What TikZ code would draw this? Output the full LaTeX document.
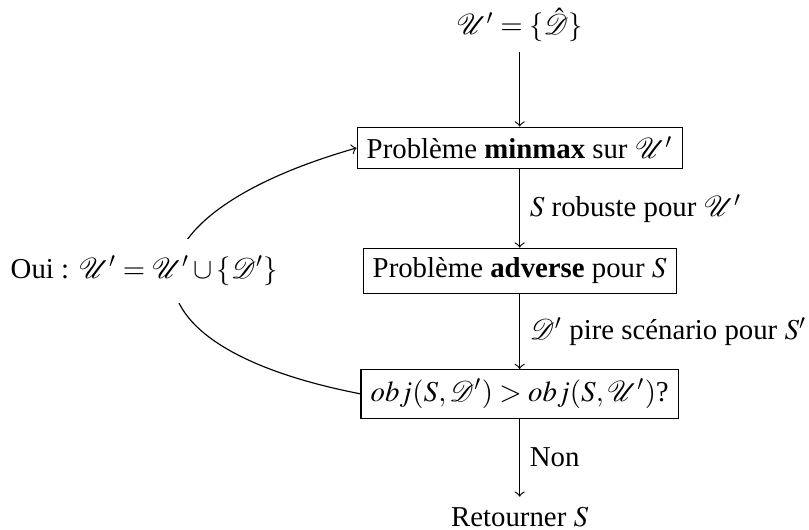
\documentclass[tikz,border=0pt]{standalone}
\usepackage{mathptmx}
\usepackage{mathrsfs}
\usepackage{fontspec}
\setmainfont{Liberation Serif}
\tikzset{
  etape/.style={draw, rectangle, fill=white},
  fleche/.style={->}
}
\begin{document}
\begin{tikzpicture}
      \useasboundingbox (-6.34,0.305) rectangle (3.53,-6.16);
      \node (init) at (0,0) {$\mathscr{U}' = \{\hat{\mathscr{D}}\}$};
      \node[etape] (minmax) at (0,-1.5) {Problème \textbf{minmax} sur $\mathscr{U}'$};
      \node[etape] (adverse) at (0,-3) {Problème \textbf{adverse} pour $S$};
      \node[etape] (test) at (0,-4.5) {$obj(S,\mathscr{D}') > obj(S,\mathscr{U}')$?};
      \node (fin) at (0,-6) {Retourner $S$};
      \draw[fleche] (init) -- (minmax);
      \draw[fleche] (minmax) -- node[right] {$S$ robuste pour $\mathscr{U}'$} (adverse);
      \draw[fleche] (adverse) -- node[right] {$\mathscr{D}'$ pire scénario pour $S'$} (test);
      \draw[fleche] (test) -- node[right] {Non} (fin);
      \draw[fleche] (test.west) .. controls +(169:3.1) and +(196:3.1) .. (minmax.west);
      \node[fill=white, inner sep=6pt] (oui) at (-4.58,-3) {Oui : $\mathscr{U}' = \mathscr{U}' \cup \{\mathscr{D}'\}$};
\end{tikzpicture}
\end{document}
